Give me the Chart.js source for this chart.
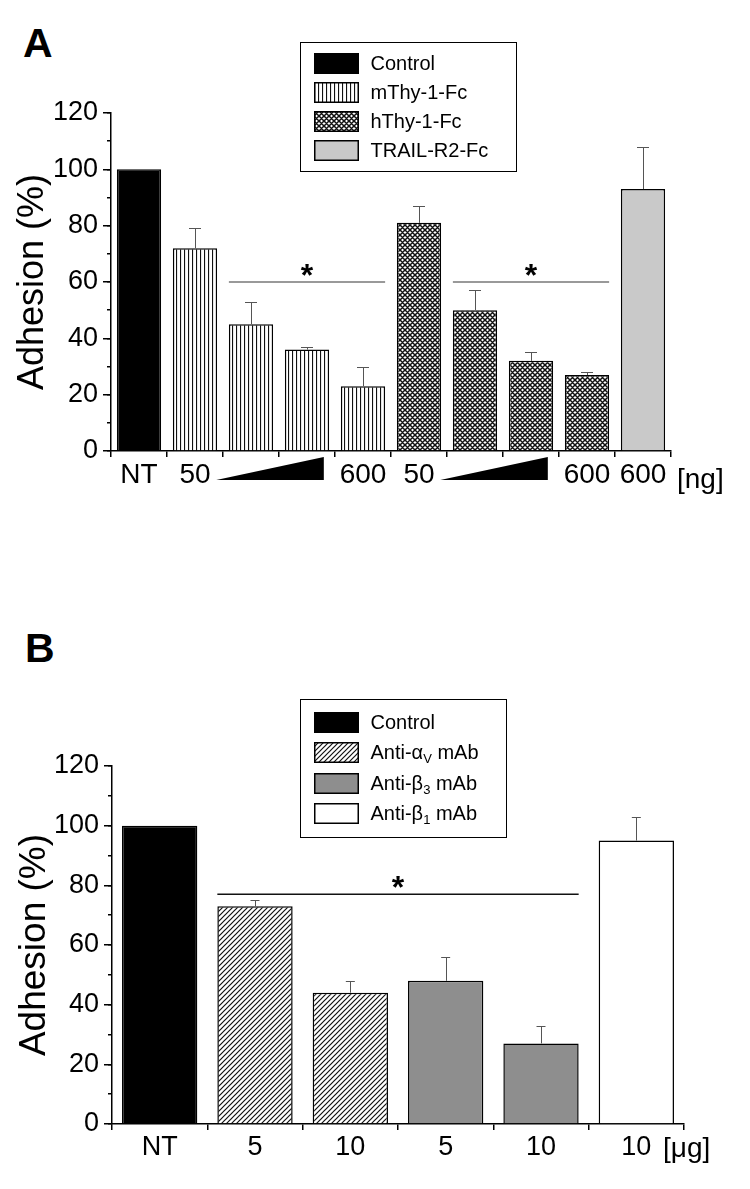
<!DOCTYPE html>
<html>
<head>
<meta charset="utf-8">
<script src="https://cdn.jsdelivr.net/npm/chart.js"></script>
<style>
  body { margin: 0; background: #fff; font-family: "Liberation Sans", Arial, sans-serif; }
  #page { position: relative; width: 750px; height: 1189px; overflow: hidden; }
  .panel { position: absolute; left: 0; }
  .letter { position: absolute; font-weight: bold; font-size: 41px; line-height: 1; }
  .unit { position: absolute; font-size: 28px; line-height: 1; }
  .legend { position: absolute; border: 1.5px solid #000; box-sizing: border-box; padding-left: 12.5px; background: #fff; }
  .legend .row { display: flex; align-items: center; font-size: 20px; }
  .legend canvas { margin-right: 12px; }
  .legend sub { font-size: 13px; vertical-align: -4px; line-height: 0; }
</style>
</head>
<body>
<div id="page">
  <div class="letter" style="left:23px; top:23px;">A</div>
  <div class="panel" style="top:0; width:750px; height:520px;"><canvas id="chartA" width="750" height="520"></canvas></div>
  <div class="legend" id="legendA" style="left:300px; top:42px; width:217px; height:130px; padding-top:5.5px;"></div>
  <div class="unit" style="left:677px; top:465px;">[ng]</div>

  <div class="letter" style="left:25px; top:628px;">B</div>
  <div class="panel" style="top:600px; width:750px; height:589px;"><canvas id="chartB" width="750" height="589"></canvas></div>
  <div class="legend" id="legendB" style="left:300px; top:699px; width:207px; height:139px; padding-top:6.75px;"></div>
  <div class="unit" style="left:663px; top:1134px;">[μg]</div>
</div>
<script>
// Panel A: Thy-1-Fc dose series
const catsA = ['NT', '50', '', '', '600', '50', '', '', '600', '600'];
const groupA = [0, 1, 1, 1, 1, 2, 2, 2, 2, 3];
const valuesA = [100, 72, 45, 36, 23, 81, 50, 32, 27, 93];
const errA = [0, 7, 8, 1, 7, 6, 7, 3, 1, 15];
const seriesA = ['Control', 'mThy-1-Fc', 'hThy-1-Fc', 'TRAIL-R2-Fc'];
const sigA = [[2, 4, 60], [6, 8, 60]];   // first bar, last bar, level
const wedgeA = [[1, 3], [5, 7]];          // dose ramps between categories

// Panel B: blocking antibodies
const catsB = ['NT', '5', '10', '5', '10', '10'];
const groupB = [0, 1, 1, 2, 2, 3];
const valuesB = [100, 73, 44, 48, 27, 95];
const errB = [0, 2, 4, 8, 6, 8];
const seriesB = ['Control', 'Anti-α_V mAb', 'Anti-β_3 mAb', 'Anti-β_1 mAb'];
const sigB = [[1, 4, 77]];

const yTicks = [0, 20, 40, 60, 80, 100, 120];

const family = '"Liberation Sans", Arial, sans-serif';

// small repeating tiles for the hatched bars
function pattern(kind) {
    const size = kind === 'vert' ? 4 : 5;
    const c = document.createElement('canvas');
    c.width = size;
    c.height = size;
    const g = c.getContext('2d');
    g.fillStyle = '#fff';
    g.fillRect(0, 0, size, size);
    g.strokeStyle = '#111';
    g.lineWidth = kind === 'cross' ? 1.5 : 1.2;
    g.beginPath();
    if (kind === 'vert') {
        g.moveTo(0.5, 0);
        g.lineTo(0.5, size);
    }
    if (kind === 'slash' || kind === 'cross') {
        g.moveTo(-1, size + 1); g.lineTo(size + 1, -1);
        g.moveTo(-1, 1); g.lineTo(1, -1);
        g.moveTo(size - 1, size + 1); g.lineTo(size + 1, size - 1);
    }
    if (kind === 'cross') {
        g.moveTo(-1, -1); g.lineTo(size + 1, size + 1);
        g.moveTo(size - 1, -1); g.lineTo(size + 1, 1);
        g.moveTo(-1, size - 1); g.lineTo(1, size + 1);
    }
    g.stroke();
    return g.createPattern(c, 'repeat');
}

const fillsA = ['#000', pattern('vert'), pattern('cross'), '#c9c9c9'];
const fillsB = ['#000', pattern('slash'), '#8e8e8e', '#fff'];

// error bars, significance lines and dose wedges
function marks(err, sigs, wedges, L) {
    return {
        id: 'marks',
        afterDatasetsDraw(chart) {
            const ctx = chart.ctx;
            const x = chart.scales.x;
            const y = chart.scales.y;
            const meta = chart.getDatasetMeta(0);
            const data = chart.data.datasets[0].data;
            ctx.save();

            ctx.strokeStyle = '#555';
            ctx.lineWidth = 1;
            meta.data.forEach((bar, i) => {
                if (!err[i]) return;
                const top = Math.round(y.getPixelForValue(data[i] + err[i])) + 0.5;
                ctx.beginPath();
                ctx.moveTo(Math.round(bar.x) + 0.5, bar.y);
                ctx.lineTo(Math.round(bar.x) + 0.5, top);
                ctx.moveTo(bar.x - L.cap, top);
                ctx.lineTo(bar.x + L.cap, top);
                ctx.stroke();
            });

            sigs.forEach(([a, b, v]) => {
                const left = meta.data[a].x - meta.data[a].width / 2;
                const right = meta.data[b].x + meta.data[b].width / 2;
                const py = y.getPixelForValue(v);
                ctx.strokeStyle = L.sigColor;
                ctx.lineWidth = 1.5;
                ctx.beginPath();
                ctx.moveTo(left, py);
                ctx.lineTo(right, py);
                ctx.stroke();
                ctx.fillStyle = '#000';
                ctx.font = 'bold 32px ' + family;
                ctx.textAlign = 'center';
                ctx.textBaseline = 'alphabetic';
                ctx.fillText('*', (left + right) / 2, py + 4);
            });

            const w = x.getPixelForValue(1) - x.getPixelForValue(0);
            wedges.forEach(([a, b]) => {
                const x0 = x.getPixelForValue(a) + 0.38 * w;
                const x1 = x.getPixelForValue(b) + 0.3 * w;
                ctx.fillStyle = '#000';
                ctx.beginPath();
                ctx.moveTo(x0, x.top + 29);
                ctx.lineTo(x1, x.top + 6);
                ctx.lineTo(x1, x.top + 29);
                ctx.closePath();
                ctx.fill();
            });
            ctx.restore();
        }
    };
}

function makeChart(id, cats, values, groups, fills, err, sigs, wedges, L) {
    return new Chart(document.getElementById(id), {
        type: 'bar',
        data: {
            labels: cats,
            datasets: [{
                data: values,
                backgroundColor: groups.map(g => fills[g]),
                borderColor: '#000',
                borderWidth: 1.5,
                barPercentage: 0.79,
                categoryPercentage: 1,
            }],
        },
        options: {
            responsive: false,
            animation: false,
            layout: { padding: { left: 0, top: L.top, right: L.right, bottom: 0 } },
            plugins: {
                legend: { display: false },
                tooltip: { enabled: false },
            },
            scales: {
                x: {
                    grid: { offset: true, drawOnChartArea: false, tickLength: 6, color: '#000', lineWidth: 1.5 },
                    border: { color: '#000', width: 1.5 },
                    ticks: { color: '#000', font: { size: L.xFont, family }, padding: 1, maxRotation: 0, autoSkip: false },
                    afterFit: s => { s.height = L.xh; },
                },
                y: {
                    type: 'linear',
                    position: 'left',
                    min: 0,
                    max: 120,
                    weight: 1,
                    afterBuildTicks: s => { s.ticks = yTicks.map(v => ({ value: v })); },
                    grid: { drawOnChartArea: false, tickLength: 8, color: '#000', lineWidth: 1.5 },
                    border: { color: '#000', width: 1.5 },
                    ticks: { color: '#000', font: { size: 27, family }, padding: 5 },
                    title: {
                        display: true,
                        text: 'Adhesion (%)',
                        color: '#000',
                        font: { size: L.titleSize, family },
                        padding: { top: L.titlePad, bottom: 0 },
                    },
                    afterFit: s => { s.width = L.yw; },
                },
                // short minor ticks every 10
                yMinor: {
                    type: 'linear',
                    position: 'left',
                    min: 0,
                    max: 120,
                    weight: 0,
                    ticks: { display: false, stepSize: 10 },
                    grid: { drawOnChartArea: false, tickLength: 4, color: '#000', lineWidth: 1.5 },
                    border: { display: false },
                    afterFit: s => { s.width = 0; },
                },
            },
        },
        plugins: [marks(err, sigs, wedges, L)],
    });
}

makeChart('chartA', catsA, valuesA, groupA, fillsA, errA, sigA, wedgeA,
    { top: 113, right: 79, xh: 69, yw: 111, xFont: 28, titleSize: 36, titlePad: 11, cap: 6, sigColor: '#777' });
makeChart('chartB', catsB, valuesB, groupB, fillsB, errB, sigB, [],
    { top: 166, right: 66, xh: 65, yw: 112, xFont: 27, titleSize: 37, titlePad: 13, cap: 4.5, sigColor: '#111' });

// legends with pattern swatches
function legend(id, names, fills, rowH) {
    const el = document.getElementById(id);
    names.forEach((name, i) => {
        const row = document.createElement('div');
        row.className = 'row';
        row.style.height = rowH + 'px';
        const sw = document.createElement('canvas');
        sw.width = 45;
        sw.height = 21;
        const g = sw.getContext('2d');
        g.fillStyle = fills[i];
        g.fillRect(0, 0, 45, 21);
        g.strokeStyle = '#000';
        g.lineWidth = 1.5;
        g.strokeRect(0.75, 0.75, 43.5, 19.5);
        const t = document.createElement('span');
        const [base, rest] = name.split('_');
        t.append(base);
        if (rest) {
            const sub = document.createElement('sub');
            sub.textContent = rest[0];
            t.append(sub, rest.slice(1));
        }
        row.append(sw, t);
        el.append(row);
    });
}

legend('legendA', seriesA, fillsA, 29);
legend('legendB', seriesB, fillsB, 30.5);
</script>
</body>
</html>
